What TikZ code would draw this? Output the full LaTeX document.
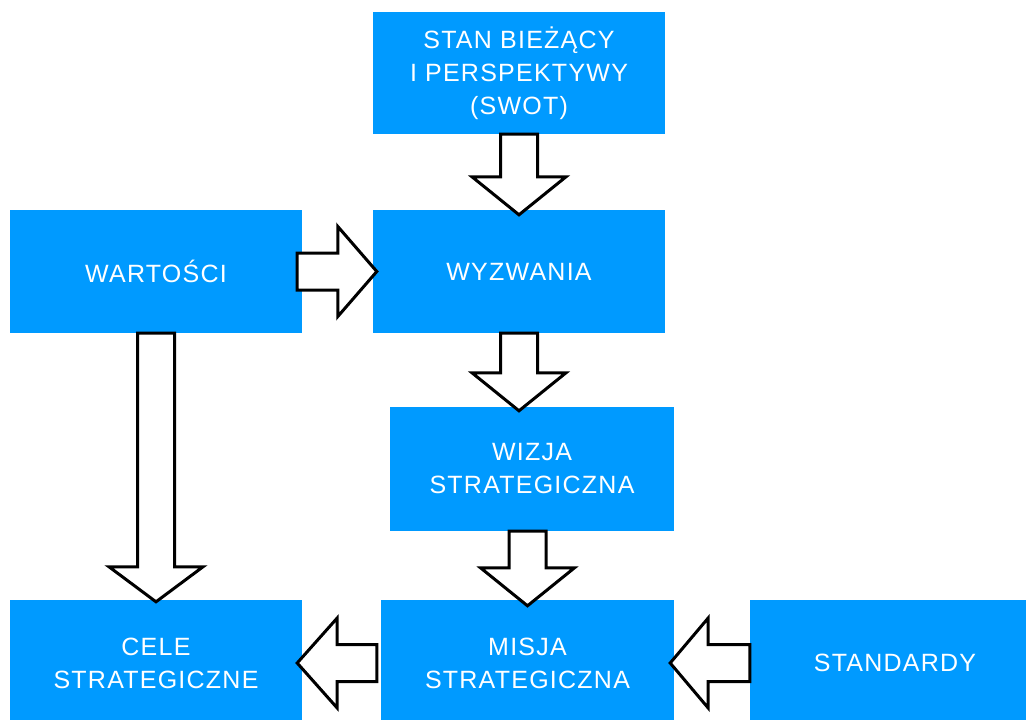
\documentclass[tikz,border=0pt]{standalone}
\usepackage{fontspec}
\setmainfont{Liberation Sans}[LetterSpace=5]
\usetikzlibrary{calc}
\definecolor{boxblue}{RGB}{0,154,255}
\tikzset{
  box/.style={rectangle, fill=boxblue, draw=none, inner sep=0pt, text=white,
    align=center, font=\fontsize{25}{33}\selectfont},
  blk/.style={draw=black, fill=white, line width=3pt, line join=miter}
}
\newcommand\downarr[3]{% start, tip, head length
  \draw[blk] let \p1=(#1), \p2=(#2) in
    (\x1-18.5pt,\y1) -- (\x1-18.5pt,\y2+#3) -- (\x1-47pt,\y2+#3) -- (\x2,\y2)
    -- (\x1+47pt,\y2+#3) -- (\x1+18.5pt,\y2+#3) -- (\x1+18.5pt,\y1) -- cycle;}
\newcommand\horarr[3]{% start, tip, signed head length (towards start)
  \draw[blk] let \p1=(#1), \p2=(#2) in
    (\x1,\y1-18.5pt) -- (\x2+#3,\y1-18.5pt) -- (\x2+#3,\y1-45pt) -- (\x2,\y2)
    -- (\x2+#3,\y1+45pt) -- (\x2+#3,\y1+18.5pt) -- (\x1,\y1+18.5pt) -- cycle;}
\begin{document}
\begin{tikzpicture}[x=1pt,y=-1pt]
\useasboundingbox (0,0) rectangle (1026,720);
\clip (0,0) rectangle (1026,720);
\node[box, minimum width=292pt, minimum height=122pt] (swot) at (519,73) {STAN BIEŻĄCY\\I PERSPEKTYWY\\(SWOT)};
\node[box, minimum width=292pt, minimum height=123pt] (wart) at (156,271.5) {WARTOŚCI};
\node[box, minimum width=292pt, minimum height=123pt] (wyz) at (519,271.5) {WYZWANIA};
\node[box, minimum width=284pt, minimum height=124pt] (wiz) at (532,469) {WIZJA\\STRATEGICZNA};
\node[box, minimum width=292pt, minimum height=126pt] (cele) at (156,663) {CELE\\STRATEGICZNE};
\node[box, minimum width=293pt, minimum height=126pt] (misja) at (527.5,663) {MISJA\\STRATEGICZNA};
\node[box, minimum width=290pt, minimum height=126pt] (stand) at (895,663) {STANDARDY};

\coordinate (t1) at ([yshift=-5pt]swot.south |- wyz.north);
\downarr{swot.south}{t1}{38pt}
\coordinate (s2) at ([xshift=-5pt]wart.east);
\coordinate (t2) at ([xshift=4pt]wyz.west);
\horarr{s2}{t2}{-39pt}
\coordinate (t3) at ([yshift=-4pt]wyz.south |- wiz.north);
\downarr{wyz.south}{t3}{38pt}
\coordinate (s4) at (wiz.south -| misja.north);
\coordinate (t4) at ([yshift=-6pt]misja.north);
\downarr{s4}{t4}{38pt}
\coordinate (t5) at ([yshift=-2pt]cele.north);
\downarr{wart.south}{t5}{35pt}
\coordinate (s6) at ([xshift=-4pt]misja.west);
\coordinate (t6) at ([xshift=-5pt]cele.east);
\horarr{s6}{t6}{40pt}
\coordinate (t7) at ([xshift=-4pt]misja.east);
\horarr{stand.west}{t7}{38pt}
\end{tikzpicture}
\end{document}
